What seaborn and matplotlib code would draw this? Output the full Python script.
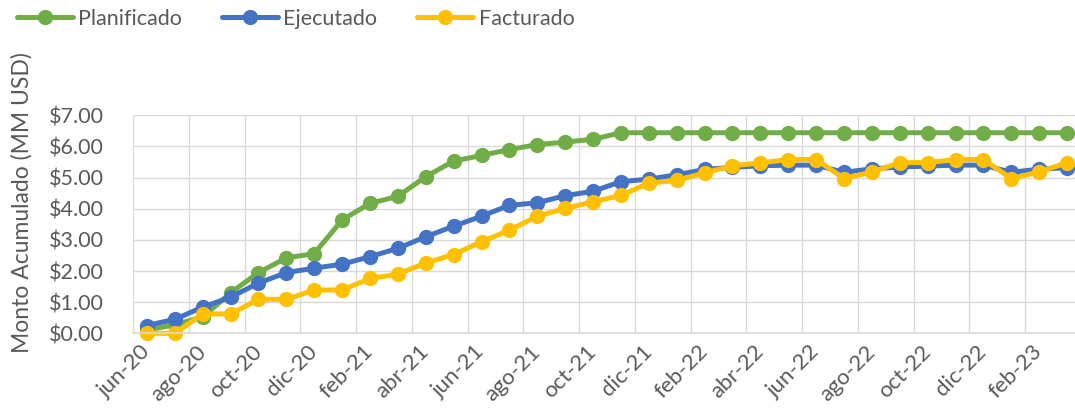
import matplotlib
matplotlib.use("Agg")
import matplotlib.pyplot as plt
import seaborn as sns
import pandas as pd
import numpy as np
from matplotlib.lines import Line2D

months = ["jun-20", "jul-20", "ago-20", "sep-20", "oct-20", "nov-20", "dic-20",
          "ene-21", "feb-21", "mar-21", "abr-21", "may-21", "jun-21", "jul-21",
          "ago-21", "sep-21", "oct-21", "nov-21", "dic-21", "ene-22", "feb-22",
          "mar-22", "abr-22", "may-22", "jun-22", "jul-22", "ago-22", "sep-22",
          "oct-22", "nov-22", "dic-22", "ene-23", "feb-23", "mar-23"]

planificado = [0.10, 0.28, 0.52, 1.30, 1.95, 2.42, 2.56, 3.64, 4.17, 4.40,
               5.03, 5.53, 5.71, 5.90, 6.06, 6.14, 6.23, 6.44, 6.44, 6.44,
               6.44, 6.44, 6.44, 6.44, 6.44, 6.44, 6.44, 6.44, 6.44, 6.44,
               6.44, 6.44, 6.44, 6.44]
ejecutado = [0.25, 0.45, 0.84, 1.16, 1.61, 1.95, 2.09, 2.22, 2.46, 2.73,
             3.10, 3.44, 3.76, 4.11, 4.19, 4.42, 4.56, 4.87, 4.95, 5.09,
             5.26, 5.33, 5.38, 5.40, 5.40, 5.17, 5.28, 5.34, 5.37, 5.40,
             5.40, 5.17, 5.27, 5.32]
facturado = [0.00, 0.00, 0.62, 0.62, 1.09, 1.09, 1.39, 1.39, 1.76, 1.90,
             2.26, 2.53, 2.94, 3.31, 3.76, 4.01, 4.22, 4.43, 4.82, 4.91,
             5.15, 5.38, 5.47, 5.58, 5.58, 4.97, 5.18, 5.48, 5.48, 5.58,
             5.58, 4.97, 5.18, 5.48]

series_names = ["Planificado", "Ejecutado", "Facturado"]
colors = ["#70AD47", "#4472C4", "#FFC000"]
yticks = [0, 1, 2, 3, 4, 5, 6, 7]

sns.set_theme(style="white")
plt.rcParams["font.family"] = ["Lato", "DejaVu Sans"]

n = len(months)
df = pd.DataFrame({
    "idx": list(range(n)) * 3,
    "valor": planificado + ejecutado + facturado,
    "serie": [s for s in series_names for _ in range(n)],
})

fig = plt.figure(figsize=(10.75, 4.12), dpi=100)
ax = fig.add_axes([133 / 1075, (412 - 333.3) / 412, (1081 - 133) / 1075, (333.3 - 115.3) / 412])

sns.lineplot(data=df, x="idx", y="valor", hue="serie", hue_order=series_names,
             palette=colors, marker="o", markersize=11, markeredgewidth=0,
             linewidth=3.6, ax=ax, legend=False, sort=False, clip_on=False)

txt = "#595959"
grid = "#D9D9D9"
ax.set_xlim(-0.5, n - 0.5)
ax.set_ylim(0, 7)
ax.set_yticks(yticks)
ax.set_yticklabels([f"${v:.2f}" for v in yticks])
ax.tick_params(axis="y", length=0, pad=21, labelsize=15.5, labelcolor=txt)

bounds = np.arange(-0.5, n, 2)
ax.set_xticks(bounds)
ax.set_xticklabels([""] * len(bounds))
ax.tick_params(axis="x", which="major", length=5, width=1, color=grid, direction="out")
centers = np.arange(0, n, 2)
ax.set_xticks(centers, minor=True)
ax.set_xticklabels([months[i] for i in centers], minor=True, rotation=45,
                   ha="right", va="center", rotation_mode="anchor")
ax.tick_params(axis="x", which="minor", length=0, pad=11, labelsize=16, labelcolor=txt)

ax.grid(True, which="major", color=grid, linewidth=1)
for s in ax.spines.values():
    s.set_visible(False)
ax.spines["bottom"].set_visible(True)
ax.spines["bottom"].set_color(grid)
ax.set_xlabel("")
ax.set_ylabel("")

fig.text(22 / 1075, (412 - 203) / 412, "Monto Acumulado (MM USD)", rotation=90,
         ha="center", va="center", fontsize=16.5, color=txt)

handles = [Line2D([], [], color=c, linewidth=3.6, marker="o", markersize=11,
                  markeredgewidth=0) for c in colors]
fig.legend(handles, series_names, loc="center left", bbox_to_anchor=(17 / 1075, 1 - 19 / 412),
           ncol=3, frameon=False, fontsize=15.5, labelcolor=txt, handlelength=2.6,
           handletextpad=0.25, columnspacing=1.85, borderaxespad=0, borderpad=0)

fig.savefig("out.png", dpi=100)
